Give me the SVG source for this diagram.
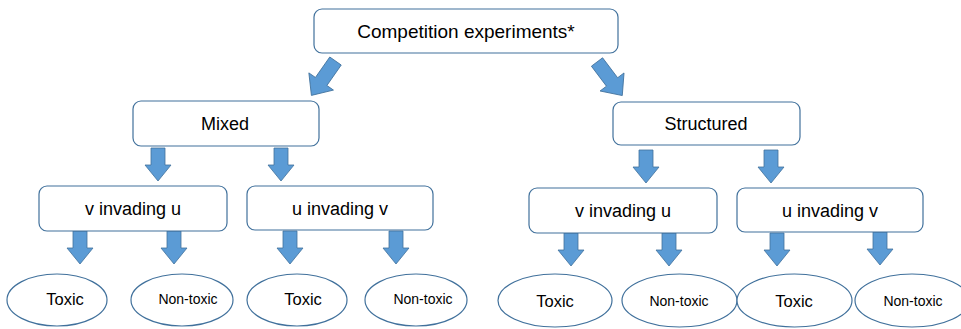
<svg xmlns="http://www.w3.org/2000/svg" xmlns:xlink="http://www.w3.org/1999/xlink" width="961" height="329" viewBox="0 0 961 329">
<style>
.box{fill:#fff;stroke:#41719C;stroke-width:1.2}
.ell{fill:#fff;stroke:#41719C;stroke-width:1.2}
.arr{fill:#5B9BD5;stroke:#41719C;stroke-width:0.8}
text{font-family:"Liberation Sans",Arial,sans-serif;fill:#000;text-anchor:middle}
.t1{font-size:19px}
.t2{font-size:18px}
.t3{font-size:16.5px}
.t4{font-size:14px}
</style>
<defs>
<path id="down" class="arr" d="M-7,0 H7 V17 H13 L0,33 L-13,17 H-7 Z"/>
<path id="diag" class="arr" d="M-7,0 H7 V25 H15 L0,42 L-15,25 H-7 Z"/>
</defs>
<rect width="961" height="329" fill="#fff"/>
<g id="connectors">
<use xlink:href="#diag" transform="translate(335.5,61) rotate(35)"/>
<use xlink:href="#diag" transform="translate(597,62) rotate(-37)"/>
<use xlink:href="#down" transform="translate(158,148)"/>
<use xlink:href="#down" transform="translate(281,148)"/>
<use xlink:href="#down" transform="translate(646,150)"/>
<use xlink:href="#down" transform="translate(771,150)"/>
<use xlink:href="#down" transform="translate(80,231)"/>
<use xlink:href="#down" transform="translate(174,231)"/>
<use xlink:href="#down" transform="translate(290,231)"/>
<use xlink:href="#down" transform="translate(396,231)"/>
<use xlink:href="#down" transform="translate(571,233)"/>
<use xlink:href="#down" transform="translate(669,233)"/>
<use xlink:href="#down" transform="translate(777,233)"/>
<use xlink:href="#down" transform="translate(880,232)"/>
</g>
<g id="competition"><rect class="box" x="314" y="9" width="304" height="44" rx="8"/><text class="t1" x="466" y="38">Competition experiments*</text></g>
<g id="mixed"><rect class="box" x="133" y="101" width="186" height="45" rx="8"/><text class="t2" x="225" y="130">Mixed</text></g>
<g id="structured"><rect class="box" x="613" y="102" width="187" height="43" rx="8"/><text class="t2" x="706" y="129.5">Structured</text></g>
<g id="mixed-vu"><rect class="box" x="39" y="186" width="188" height="45" rx="8"/><text class="t2" x="133" y="215">v invading u</text></g>
<g id="mixed-uv"><rect class="box" x="247" y="186" width="186" height="44" rx="8"/><text class="t2" x="340" y="215">u invading v</text></g>
<g id="struct-vu"><rect class="box" x="529" y="188" width="188" height="45" rx="8"/><text class="t2" x="623" y="217">v invading u</text></g>
<g id="struct-uv"><rect class="box" x="737" y="188" width="186" height="44" rx="8"/><text class="t2" x="830" y="216.5">u invading v</text></g>
<g id="m-vu-toxic"><ellipse class="ell" cx="57" cy="300" rx="50" ry="26"/><text class="t3" x="65" y="305">Toxic</text></g>
<g id="m-vu-nontoxic"><ellipse class="ell" cx="182" cy="300" rx="51" ry="26"/><text class="t4" x="188" y="304">Non-toxic</text></g>
<g id="m-uv-toxic"><ellipse class="ell" cx="297" cy="300" rx="50" ry="26"/><text class="t3" x="303" y="305">Toxic</text></g>
<g id="m-uv-nontoxic"><ellipse class="ell" cx="416" cy="300" rx="51" ry="26"/><text class="t4" x="423" y="304">Non-toxic</text></g>
<g id="s-vu-toxic"><ellipse class="ell" cx="555" cy="300.5" rx="57" ry="26.5"/><text class="t3" x="555" y="307">Toxic</text></g>
<g id="s-vu-nontoxic"><ellipse class="ell" cx="679.5" cy="300.5" rx="57.5" ry="26.5"/><text class="t4" x="679" y="306">Non-toxic</text></g>
<g id="s-uv-toxic"><ellipse class="ell" cx="794.5" cy="300.5" rx="57.5" ry="26.5"/><text class="t3" x="794" y="307">Toxic</text></g>
<g id="s-uv-nontoxic"><ellipse class="ell" cx="912" cy="300.5" rx="57" ry="26.5"/><text class="t4" x="913" y="306">Non-toxic</text></g>
</svg>
